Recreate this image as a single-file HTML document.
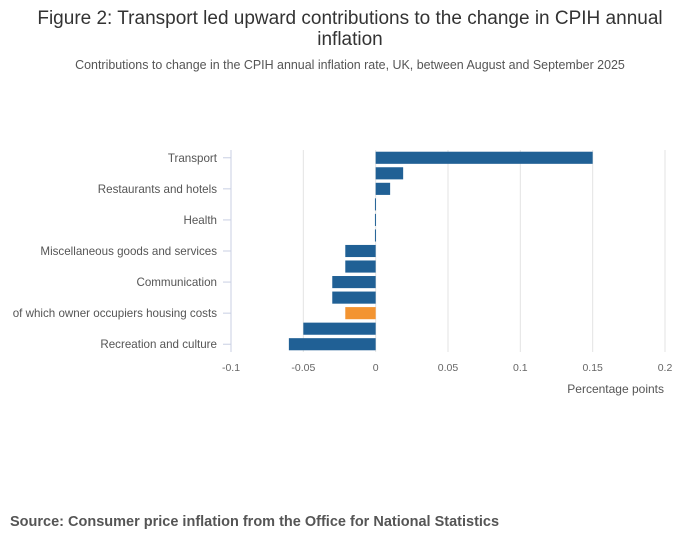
<!DOCTYPE html>
<html><head><meta charset="utf-8"><style>
body{margin:0;background:#fff;font-family:"Liberation Sans",sans-serif;}
#wrap{position:relative;width:700px;height:549px;overflow:hidden;}
</style></head><body>
<div id="wrap">
<svg id="svg" width="700" height="549">
<text x="350" y="24" text-anchor="middle" font-size="19" fill="#333">Figure 2: Transport led upward contributions to the change in CPIH annual</text>
<text x="350" y="45" text-anchor="middle" font-size="19" fill="#333">inflation</text>
<text x="350" y="69" text-anchor="middle" font-size="12.45" fill="#555">Contributions to change in the CPIH annual inflation rate, UK, between August and September 2025</text>
<text x="664" y="393" text-anchor="end" font-size="12" fill="#555">Percentage points</text>
<text x="10" y="526" font-size="14.5" font-weight="bold" fill="#555">Source: Consumer price inflation from the Office for National Statistics</text>
<g id="plot"></g>
</svg>
</div>
<script>
const categories=["Transport","Food and non-alcoholic beverages","Restaurants and hotels","Education","Health","Alcohol and tobacco","Miscellaneous goods and services","Furniture and household goods","Communication","Housing and household services","of which owner occupiers housing costs","Clothing and footwear","Recreation and culture"];
const values=[0.15,0.019,0.01,-0.0005,-0.0005,-0.0005,-0.021,-0.021,-0.03,-0.03,-0.021,-0.05,-0.06];
const highlight=[false,false,false,false,false,false,false,false,false,false,true,false,false];
const xTicks=[-0.1,-0.05,0,0.05,0.1,0.15,0.2];
const xTickLabels=["-0.1","-0.05","0","0.05","0.1","0.15","0.2"];
const NS="http://www.w3.org/2000/svg";
const g=document.getElementById('plot');
const x0=231,x1=665,dMin=-0.1,dMax=0.2,yTop=150,yBot=352;
function xs(v){return x0+(v-dMin)/(dMax-dMin)*(x1-x0);}
const band=(yBot-yTop)/categories.length;
function ys(i){return yTop+i*band;}
function mk(t,a){const e=document.createElementNS(NS,t);for(const k in a)e.setAttribute(k,a[k]);g.appendChild(e);return e;}
xTicks.forEach((t,i)=>{
 if(t!==dMin){const l=mk('line',{x1:xs(t),x2:xs(t),y1:yTop,y2:yBot,stroke:'#e3e3e3','stroke-width':1});
 
 }
 const tx=mk('text',{x:xs(t),y:371,'text-anchor':'middle','font-size':10.5,fill:'#666'});tx.textContent=xTickLabels[i];
 
 
});
const ax=mk('line',{x1:x0,x2:x0,y1:yTop,y2:yBot,stroke:'#c8cfe3','stroke-width':1});


categories.forEach((c,i)=>{
 const v=values[i];const a=xs(Math.min(0,v)),b=xs(Math.max(0,v));
 const r=mk('rect',{x:a,y:ys(i)+band*0.11,width:Math.max(1,b-a),height:band*0.78,fill:highlight[i]?'#f39431':'#206095'});
 
 
 if(i%2===0){
  const cy=ys(i)+band/2;
  const tk=mk('line',{x1:x0-8,x2:x0,y1:cy,y2:cy,stroke:'#c8cfe3','stroke-width':1});
  
  
  const t=mk('text',{x:217,y:cy+4,'text-anchor':'end','font-size':11.6,fill:'#555'});t.textContent=c;
  
  
 }
});
</script>
</body></html>
